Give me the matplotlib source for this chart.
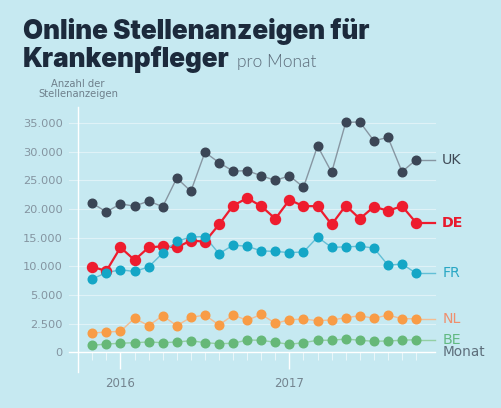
import matplotlib
matplotlib.use("Agg")
import matplotlib.pyplot as plt
import numpy as np

# ---------------- data ----------------
months = list(range(24))  # Nov 2015 .. Oct 2017
year_ticks = [2, 14]
year_labels = ["2016", "2017"]

uk = [21000, 19500, 20900, 20500, 21400, 20400, 25400, 23100, 29900, 28100, 26600, 26700,
      25800, 25000, 25800, 23800, 31000, 26400, 35100, 35200, 31900, 32500, 26500, 28600]
de = [9900, 9200, 13300, 11100, 13300, 13500, 13300, 14500, 14300, 17300, 20600, 21900,
      20500, 18300, 21600, 20500, 20500, 17300, 20600, 18300, 20400, 19700, 20500, 17600]
fr = [7800, 8900, 9400, 9100, 9900, 12300, 14400, 15100, 15200, 12200, 13700, 13500,
      12700, 12600, 12400, 12500, 15100, 13300, 13400, 13500, 13200, 10200, 10400, 8800]
nl = [1680, 1770, 1830, 2970, 2320, 3190, 2320, 3050, 3250, 2380, 3250, 2790,
      3310, 2530, 2840, 2900, 2760, 2820, 3020, 3190, 2970, 3250, 2930, 2930]
be = [610, 720, 790, 840, 900, 840, 900, 1010, 840, 750, 790, 1070,
      1050, 870, 700, 840, 1050, 1050, 1160, 1050, 960, 990, 1050, 1100]

series_names = ["UK", "DE", "FR", "NL", "BE"]
series_values = [uk, de, fr, nl, be]

y_ticks = [0, 2500, 5000, 10000, 15000, 20000, 25000, 30000, 35000]
y_tick_labels = ["0", "2.500", "5.000", "10.000", "15.000", "20.000", "25.000", "30.000", "35.000"]

# ---------------- style ----------------
BG = "#c6e9f1"
styles = {
    "UK": dict(mc="#3b4656", lc="#8796a2", lw=1.0, ms=6.2, tc="#3f4a56", tw="normal"),
    "DE": dict(mc="#ee1c2e", lc="#ee1c2e", lw=1.6, ms=7.2, tc="#e8192c", tw="bold"),
    "FR": dict(mc="#14a6c6", lc="#62bfd6", lw=1.0, ms=6.2, tc="#2aa7c4", tw="normal"),
    "NL": dict(mc="#f89c46", lc="#f3bd92", lw=1.0, ms=6.2, tc="#ef8f6e", tw="normal"),
    "BE": dict(mc="#66b878", lc="#93cfa4", lw=1.0, ms=6.2, tc="#62b982", tw="normal"),
}


def fwd(y):
    y = np.asarray(y, dtype=float)
    return np.where(y <= 5000, y / 2500.0, 2.0 + (y - 5000.0) / 5000.0)


def inv(t):
    t = np.asarray(t, dtype=float)
    return np.where(t <= 2, t * 2500.0, 5000.0 + (t - 2.0) * 5000.0)


fig = plt.figure(figsize=(5.02, 4.08), dpi=100)
fig.patch.set_facecolor(BG)

ax = fig.add_axes([78 / 502, 36 / 408, 357 / 502, 265 / 408])
ax.set_facecolor("none")
ax.set_yscale("function", functions=(fwd, inv))
ax.set_xlim(-1.016, 24.34)
ax.set_ylim(-1718, 37800)

# grid lines
for v in y_ticks:
    ax.axhline(v, xmin=-0.025, xmax=1.0, color="white",
               lw=1.0 if v == 0 else 0.8, alpha=1.0 if v == 0 else 0.45,
               clip_on=False, zorder=1)

ax.set_yticks(y_ticks)
ax.set_yticklabels(y_tick_labels)
ax.tick_params(axis="y", length=0, pad=11, labelsize=8.2, labelcolor="#8494a0")
ax.yaxis.set_minor_locator(matplotlib.ticker.NullLocator())

for s in ["top", "right"]:
    ax.spines[s].set_visible(False)
ax.spines["left"].set_color("white")
ax.spines["left"].set_linewidth(1.0)
ax.spines["bottom"].set_position(("data", 0))
ax.spines["bottom"].set_visible(False)

ax.set_xticks(year_ticks)
ax.set_xticklabels(year_labels)
ax.set_xticks(months, minor=True)
ax.tick_params(axis="x", which="major", direction="out", length=12.5, width=1.0,
               color="white", labelsize=8.5, labelcolor="#74848f", pad=5)
ax.tick_params(axis="x", which="minor", direction="out", length=6, width=0.8,
               color=(1, 1, 1, 0.6))

for name, vals in zip(series_names, series_values):
    st = styles[name]
    ax.plot(months, vals, color=st["lc"], lw=st["lw"], zorder=3)
    ax.plot(months, vals, ls="none", marker="o", ms=st["ms"], mfc=st["mc"],
            mec=st["mc"], zorder=4)
    ax.plot([months[-1], 24.34], [vals[-1], vals[-1]], color=st["lc"],
            lw=st["lw"], zorder=3, clip_on=False)
    ax.text(24.85, vals[-1], name, color=st["tc"], fontsize=10.2,
            fontweight=st["tw"], va="center", ha="left", clip_on=False)

ax.text(24.85, 0, "Monat", color="#5e6f7c", fontsize=9.8, va="center", ha="left")

# titles
TITLE_FONT = ["Inter", "Lato", "DejaVu Sans"]
t1 = fig.text(23 / 502, 1 - 39 / 408, "Online Stellenanzeigen für", fontsize=16,
              fontweight=900, family=TITLE_FONT, color="#1c2a3c",
              ha="left", va="baseline")
t2 = fig.text(23 / 502, 1 - 67 / 408, "Krankenpfleger", fontsize=16,
              fontweight=900, family=TITLE_FONT, color="#1c2a3c",
              ha="left", va="baseline")
fig.canvas.draw()
r = fig.canvas.get_renderer()
w1 = t1.get_window_extent(r).width
fs = 16 * 349.0 / w1
t1.set_fontsize(fs)
t2.set_fontsize(fs)
fig.canvas.draw()
e2 = t2.get_window_extent(r)
fig.text((e2.x1 + 7) / 502, 1 - 67 / 408, "pro Monat", fontsize=12.5, fontweight=300,
         family=["Lato", "DejaVu Sans"], color="#5d6d7b", ha="left", va="baseline")
fig.text(78 / 502, 1 - 89 / 408, "Anzahl der\nStellenanzeigen", fontsize=7.2,
         color="#6f808c", ha="center", va="center", linespacing=1.0)

fig.savefig("out.png", dpi=100, facecolor=BG)
